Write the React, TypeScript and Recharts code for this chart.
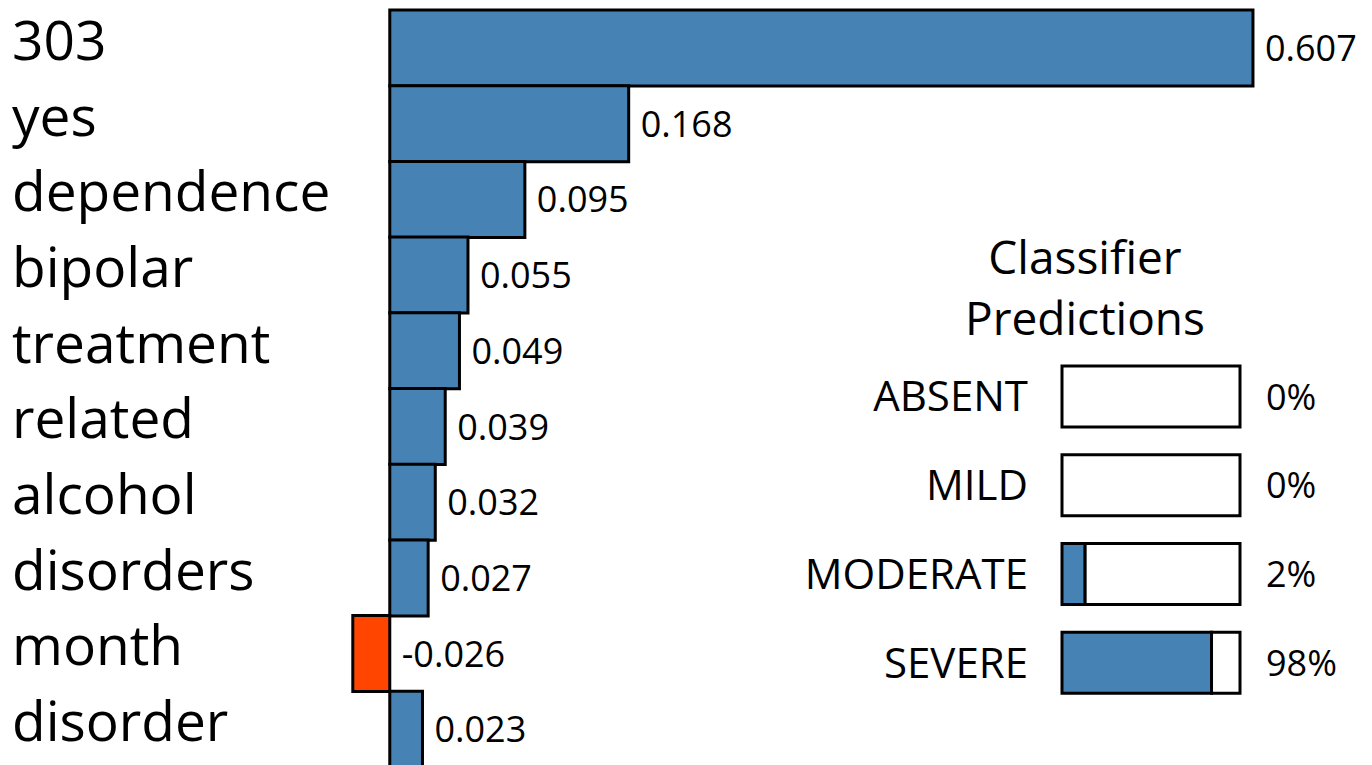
import React from "react";
import { BarChart, Bar, XAxis, YAxis, Cell, LabelList } from "recharts";

// feature weights (main chart)
const features = ["303", "yes", "dependence", "bipolar", "treatment", "related", "alcohol", "disorders", "month", "disorder"];
const weights = [0.607, 0.168, 0.095, 0.055, 0.049, 0.039, 0.032, 0.027, -0.026, 0.023];

// classifier predictions (inset)
const classes = ["ABSENT", "MILD", "MODERATE", "SEVERE"];
const percents = [0, 0, 2, 98];
const filled = [0, 0, 0.13, 0.84];

const BLUE = "#4682B4";
const RED = "#FF4500";
const FONT = "'Open Sans', sans-serif";

const mainData = features.map((f, i) => ({ feature: f, weight: weights[i] }));
const predData = classes.map((c, i) => ({ cls: c, pct: percents[i], shown: filled[i], rest: 1 - filled[i] }));

function FeatureTick(props: any) {
  const { y, payload } = props;
  return (
    <text x={12} y={y + 12} fontSize={55} fontFamily={FONT} fill="#000" textAnchor="start">
      {payload.value}
    </text>
  );
}

function WeightLabel(props: any) {
  const { x, y, width, height, value } = props;
  const end = Math.max(x, x + width);
  return (
    <text x={end + 12} y={y + height / 2 + 13} fontSize={36} fontFamily={FONT} fill="#000">
      {Number(value).toFixed(3)}
    </text>
  );
}

function ClassTick(props: any) {
  const { x, y, payload } = props;
  return (
    <text x={x - 26} y={y + 15} fontSize={42} fontFamily={FONT} fill="#000" textAnchor="end">
      {payload.value}
    </text>
  );
}

function PctLabel(props: any) {
  const { y, height, value } = props;
  return (
    <text x={466} y={y + height / 2 + 13} fontSize={36} fontFamily={FONT} fill="#000">
      {value}%
    </text>
  );
}

export default function App() {
  return (
    <div style={{ position: "absolute", left: 0, top: 0, width: 1372, height: 765, overflow: "hidden", background: "#fff", fontFamily: FONT }}>
      <BarChart
        width={1372}
        height={770}
        data={mainData}
        layout="vertical"
        margin={{ top: 10, right: 1, bottom: 3, left: 0 }}
        barCategoryGap={0}
      >
        <XAxis type="number" domain={[-0.035, 0.69]} hide />
        <YAxis type="category" dataKey="feature" width={340} axisLine={false} tickLine={false} tick={<FeatureTick />} interval={0} />
        <Bar dataKey="weight" stroke="#000" strokeWidth={3} isAnimationActive={false} label={<WeightLabel />}>
          {mainData.map((d, i) => (
            <Cell key={i} fill={d.weight < 0 ? RED : BLUE} />
          ))}
        </Bar>
      </BarChart>

      <div style={{ position: "absolute", left: 885, top: 226, width: 400, textAlign: "center", fontSize: 46, lineHeight: "61px", color: "#000" }}>
        Classifier
        <br />
        Predictions
      </div>

      <div style={{ position: "absolute", left: 800, top: 352 }}>
        <BarChart
          width={572}
          height={355}
          data={predData}
          layout="vertical"
          margin={{ top: 0, right: 132, bottom: 0, left: 0 }}
          barSize={61}
        >
          <XAxis type="number" domain={[0, 1]} hide />
          <YAxis type="category" dataKey="cls" width={262} axisLine={false} tickLine={false} tick={<ClassTick />} interval={0} />
          <Bar dataKey="shown" stackId="p" fill={BLUE} stroke="#000" strokeWidth={3} isAnimationActive={false} />
          <Bar dataKey="rest" stackId="p" fill="#fff" stroke="#000" strokeWidth={3} isAnimationActive={false}>
            <LabelList dataKey="pct" content={<PctLabel />} />
          </Bar>
        </BarChart>
      </div>
    </div>
  );
}
